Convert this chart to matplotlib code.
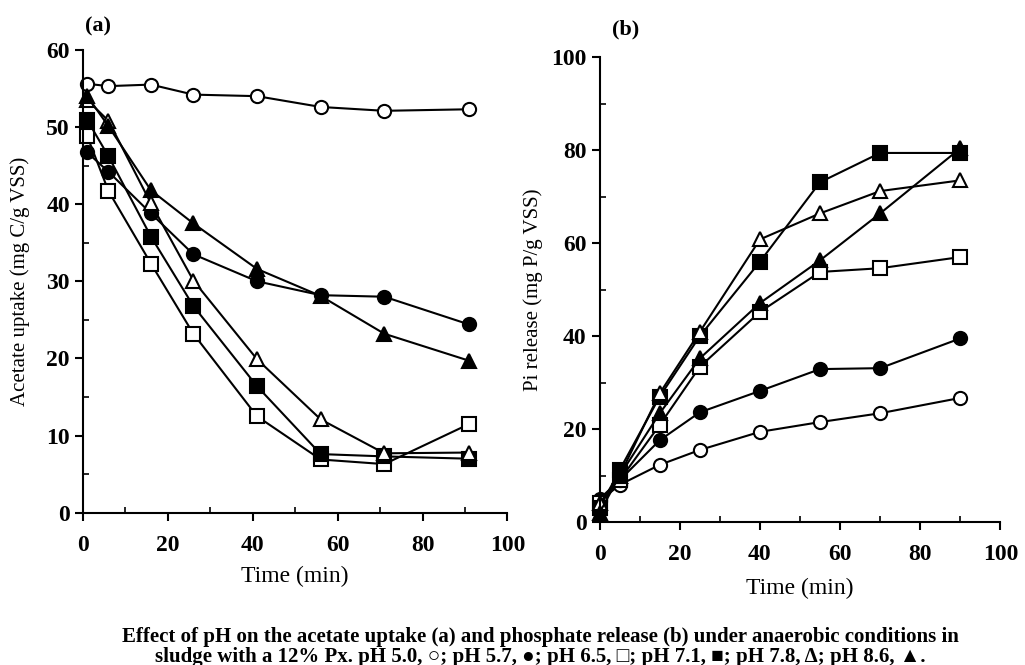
import matplotlib
matplotlib.use("Agg")
import matplotlib.pyplot as plt
from matplotlib.ticker import MultipleLocator

plt.rcParams['font.family'] = ['Liberation Serif', 'DejaVu Serif']

# sampling times (min)
time_a = [1, 6, 16, 26, 41, 56, 71, 91]
time_b = [0, 5, 15, 25, 40, 55, 70, 90]

# (a) acetate uptake, mg C/g VSS
ac_ph50 = [55.6, 55.3, 55.5, 54.2, 54.0, 52.6, 52.1, 52.3]
ac_ph57 = [46.7, 44.2, 38.8, 33.5, 30.0, 28.2, 28.0, 24.4]
ac_ph65 = [48.8, 41.7, 32.3, 23.2, 12.5, 6.9, 6.3, 11.5]
ac_ph71 = [50.9, 46.2, 35.8, 26.8, 16.4, 7.6, 7.3, 7.0]
ac_ph78 = [53.5, 50.8, 40.1, 30.1, 19.9, 12.1, 7.7, 7.8]
ac_ph86 = [54.0, 50.1, 41.8, 37.5, 31.6, 28.1, 23.2, 19.7]

# (b) Pi release, mg P/g VSS
pi_ph50 = [4.5, 8.0, 12.3, 15.5, 19.4, 21.5, 23.4, 26.7]
pi_ph57 = [5.0, 9.0, 17.6, 23.6, 28.2, 32.9, 33.1, 39.5]
pi_ph65 = [4.0, 9.0, 20.9, 33.4, 45.2, 53.8, 54.6, 57.0]
pi_ph71 = [3.0, 11.2, 27.0, 40.0, 56.0, 73.1, 79.4, 79.4]
pi_ph78 = [4.0, 10.0, 27.7, 40.9, 60.8, 66.4, 71.2, 73.5]
pi_ph86 = [2.0, 10.0, 23.4, 35.2, 47.1, 56.3, 66.4, 80.4]

styles = [('o', 'white'), ('o', 'black'), ('s', 'white'),
          ('s', 'black'), ('^', 'white'), ('^', 'black')]

fig = plt.figure(figsize=(10.25, 6.65), dpi=100)
ax1 = fig.add_axes([0.081, 0.229, 0.414, 0.696])
ax2 = fig.add_axes([0.585, 0.215, 0.391, 0.699])


def draw(ax, t, series):
    for ys, (m, fc) in zip(series, styles):
        ax.plot(t, ys, '-', color='black', lw=1.5, marker=m, ms=9.5,
                mfc=fc, mec='black', mew=1.5, clip_on=False)
    for s in ['top', 'right']:
        ax.spines[s].set_visible(False)
    for s in ['left', 'bottom']:
        ax.spines[s].set_linewidth(1.5)
    ax.set_xlim(0, 100)
    ax.xaxis.set_major_locator(MultipleLocator(20))
    ax.xaxis.set_minor_locator(MultipleLocator(10))
    ax.tick_params(which='major', direction='out', length=6, width=1.5,
                   labelsize=17)
    ax.tick_params(axis='x', which='major', pad=10)
    ax.tick_params(which='minor', direction='in', length=4, width=1.2)


draw(ax1, time_a, [ac_ph50, ac_ph57, ac_ph65, ac_ph71, ac_ph78, ac_ph86])
ax1.set_ylim(0, 60)
ax1.yaxis.set_major_locator(MultipleLocator(10))
ax1.yaxis.set_minor_locator(MultipleLocator(5))
for lab in ax1.get_xticklabels() + ax1.get_yticklabels():
    lab.set_fontweight('bold')
ax1.set_xlabel('Time (min)', fontsize=17, labelpad=7)
ax1.set_ylabel('Acetate uptake (mg C/g VSS)', fontsize=15, labelpad=12)

draw(ax2, time_b, [pi_ph50, pi_ph57, pi_ph65, pi_ph71, pi_ph78, pi_ph86])
ax2.set_ylim(0, 100)
ax2.yaxis.set_major_locator(MultipleLocator(20))
ax2.yaxis.set_minor_locator(MultipleLocator(10))
for lab in ax2.get_xticklabels() + ax2.get_yticklabels():
    lab.set_fontweight('bold')
ax2.set_xlabel('Time (min)', fontsize=17, labelpad=9)
ax2.set_ylabel('Pi release (mg P/g VSS)', fontsize=15, labelpad=6)

fig.text(0.083, 0.975, '(a)', fontsize=16, fontweight='bold', va='top')
fig.text(0.597, 0.97, '(b)', fontsize=16, fontweight='bold', va='top')

caption = ("Effect of pH on the acetate uptake (a) and phosphate release (b) under anaerobic conditions in\n"
           "sludge with a 12% Px. pH 5.0, \u25cb; pH 5.7, \u25cf; pH 6.5, \u25a1; pH 7.1, \u25a0; "
           "pH 7.8, \u0394; pH 8.6, \u25b2.")
fig.text(0.527, 0.027, caption, fontsize=15, fontweight='bold', ha='center',
         va='center', linespacing=0.95,
         family=['Liberation Serif', 'DejaVu Sans'])

fig.savefig('out.png', dpi=100)
